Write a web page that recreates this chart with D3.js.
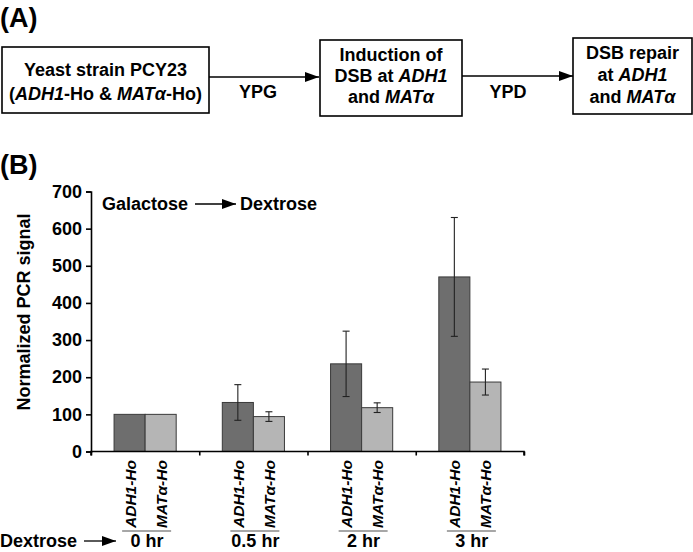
<!DOCTYPE html>
<html>
<head>
<meta charset="utf-8">
<script src="https://cdn.jsdelivr.net/npm/d3@7"></script>
<style>
  html, body { margin: 0; padding: 0; background: #fff; }
  svg { display: block; font-family: "Liberation Sans", Arial, sans-serif; font-weight: bold; }
</style>
</head>
<body>
<svg id="chart" width="693" height="552"></svg>
<script>
// ---- data ----
const categories = ["0 hr", "0.5 hr", "2 hr", "3 hr"];
const seriesNames = ["ADH1-Ho", "MATα-Ho"];
const adh1Values = [100, 132, 236, 470];
const adh1Errors = [0, 48, 88, 160];
const matValues = [100, 94, 118, 187];
const matErrors = [0, 13, 13, 35];
const yTickValues = [0, 100, 200, 300, 400, 500, 600, 700];

const svg = d3.select("#chart");
const colors = { "ADH1-Ho": "#6e6e6e", "MATα-Ho": "#b5b5b5" };

// ---------- Panel A ----------
svg.append("text").attr("x", 0).attr("y", 27).attr("font-size", 27).text("(A)");
svg.append("text").attr("x", 0).attr("y", 174).attr("font-size", 27).text("(B)");

const defs = svg.append("defs");
defs.append("marker").attr("id", "ah").attr("viewBox", "0 0 14 10")
  .attr("refX", 14).attr("refY", 5).attr("markerWidth", 14).attr("markerHeight", 10)
  .attr("markerUnits", "userSpaceOnUse").attr("orient", "auto")
  .append("path").attr("d", "M0,0 L14,5 L0,10 Z").attr("fill", "#000");

function box(x, y, w, h) {
  svg.append("rect").attr("x", x).attr("y", y).attr("width", w).attr("height", h)
    .attr("fill", "none").attr("stroke", "#000").attr("stroke-width", 1.6);
}
function line(parts, cx, y, size) {
  const t = svg.append("text").attr("x", cx).attr("y", y).attr("text-anchor", "middle").attr("font-size", size || 18);
  parts.forEach(p => {
    const s = t.append("tspan").text(p[0]);
    if (p[1]) s.attr("font-style", "italic");
  });
  return t;
}
function arrow(x1, x2, y) {
  svg.append("line").attr("x1", x1).attr("x2", x2).attr("y1", y).attr("y2", y)
    .attr("stroke", "#000").attr("stroke-width", 1.3).attr("marker-end", "url(#ah)");
}

box(2, 47, 207, 66);
line([["Yeast strain PCY23"]], 105.5, 76);
line([["("], ["ADH1", 1], ["-Ho & "], ["MATα", 1], ["-Ho)"]], 105.5, 100);
arrow(209, 319, 77);
line([["YPG"]], 258, 98);

box(320, 40, 142, 76);
line([["Induction of"]], 391, 61);
line([["DSB at "], ["ADH1", 1]], 391, 82);
line([["and "], ["MATα", 1]], 391, 103);
arrow(462, 573, 76);
line([["YPD"]], 508, 98);

box(573, 38, 119, 76);
line([["DSB repair"]], 632.5, 59);
line([["at "], ["ADH1", 1]], 632.5, 81);
line([["and "], ["MATα", 1]], 632.5, 103);

// ---------- Panel B ----------
const y = d3.scaleLinear().domain([0, 700]).range([451.5, 191.5]);
const x = d3.scaleBand().domain(categories).range([91, 524]).padding(0);
const xs = d3.scaleBand().domain(seriesNames)
  .range([x.bandwidth() * 0.213, x.bandwidth() * 0.787]).padding(0);
const xEdges = d3.scaleLinear().domain([0, categories.length]).range(x.range());

const rows = [];
categories.forEach((c, i) => {
  rows.push({ cat: c, s: seriesNames[0], v: adh1Values[i], e: adh1Errors[i] });
  rows.push({ cat: c, s: seriesNames[1], v: matValues[i], e: matErrors[i] });
});

svg.append("g").selectAll("rect").data(rows).join("rect")
  .attr("x", d => x(d.cat) + xs(d.s))
  .attr("y", d => y(d.v))
  .attr("width", xs.bandwidth())
  .attr("height", d => y(0) - y(d.v))
  .attr("fill", d => colors[d.s])
  .attr("stroke", "#3a3a3a").attr("stroke-width", 1);

const eb = svg.append("g").attr("stroke", "#222").attr("stroke-width", 1.1);
rows.filter(d => d.e > 0).forEach(d => {
  const cx = x(d.cat) + xs(d.s) + xs.bandwidth() / 2;
  eb.append("line").attr("x1", cx).attr("x2", cx).attr("y1", y(d.v + d.e)).attr("y2", y(d.v - d.e));
  [d.v + d.e, d.v - d.e].forEach(v => {
    eb.append("line").attr("x1", cx - 3.5).attr("x2", cx + 3.5).attr("y1", y(v)).attr("y2", y(v));
  });
});

// y axis
const yAxis = svg.append("g").attr("transform", "translate(91,0)")
  .call(d3.axisLeft(y).tickValues(yTickValues).tickSize(5).tickPadding(4).tickFormat(d3.format("d")));
yAxis.selectAll("path, line").attr("stroke", "#000").attr("stroke-width", 1.6);
yAxis.selectAll("text").attr("font-size", 18).attr("font-weight", "bold")
  .attr("font-family", '"Liberation Sans", Arial, sans-serif').attr("fill", "#000");

// x axis
const xAxis = svg.append("g").attr("transform", `translate(0,${y(0)})`)
  .call(d3.axisBottom(xEdges).ticks(categories.length).tickSize(4).tickFormat(""));
xAxis.selectAll("path, line").attr("stroke", "#000").attr("stroke-width", 1.6);
xAxis.select("path").attr("d", `M${x.range()[0]},4V0H${x.range()[1]}V4`);

// y title
svg.append("text").attr("transform", "translate(30,312) rotate(-90)")
  .attr("text-anchor", "middle").attr("font-size", 18).text("Normalized PCR signal");

// rotated series labels
rows.forEach(d => {
  const cx = x(d.cat) + xs(d.s) + xs.bandwidth() / 2;
  const t = svg.append("text").attr("transform", `translate(${cx + 6},528) rotate(-90)`)
    .attr("font-size", 15.5).attr("font-style", "italic");
  t.text(d.s);
});

// underlines and time labels
categories.forEach(c => {
  const cx = x(c) + x.bandwidth() / 2;
  svg.append("line").attr("x1", cx - 23).attr("x2", cx + 26).attr("y1", 531).attr("y2", 531)
    .attr("stroke", "#8a8a8a").attr("stroke-width", 1.5);
  svg.append("text").attr("x", cx + 2).attr("y", 547).attr("text-anchor", "middle")
    .attr("font-size", 18).text(c);
});

svg.append("text").attr("x", 0).attr("y", 547).attr("font-size", 18).text("Dextrose");
arrow(84, 116, 541);

svg.append("text").attr("x", 102).attr("y", 210).attr("font-size", 18).text("Galactose");
arrow(195, 236, 204);
svg.append("text").attr("x", 240).attr("y", 210).attr("font-size", 18).text("Dextrose");
</script>
</body>
</html>
